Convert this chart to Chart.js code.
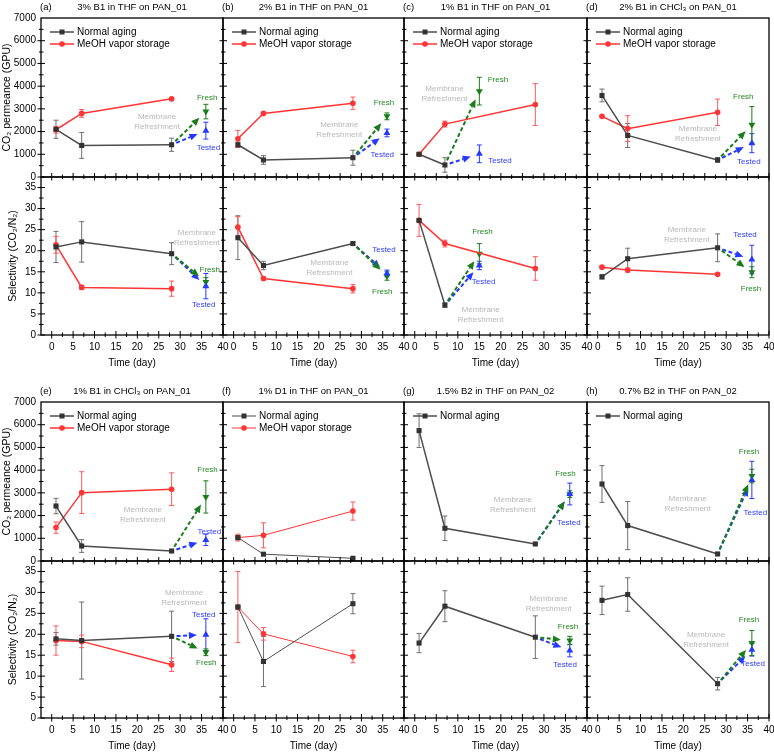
<!DOCTYPE html>
<html>
<head>
<meta charset="utf-8">
<script src="https://cdn.jsdelivr.net/npm/chart.js@4.4.1/dist/chart.umd.min.js"></script>
<style>
  body { margin:0; background:#fff; width:774px; height:754px; position:relative; overflow:hidden; }
  canvas { position:absolute; }
</style>
</head>
<body>
<script>
// ══════════════════════════════════════════════════
//  DATA
// ══════════════════════════════════════════════════
const xTicks = [0, 5, 10, 15, 20, 25, 30, 35, 40];
const permTicks = [0, 1000, 2000, 3000, 4000, 5000, 6000, 7000];
const selTicks = [0, 5, 10, 15, 20, 25, 30, 35];
const days = [1, 7, 28];
const daysShort = [1, 7];        // (c) normal aging stops at day 7
const refreshDay = 36;
const refreshDayShort = 15;      // (c) refreshed at day 15

// refresh arrays are [fresh, tested]
// (a)
const aPermAging = [2100, 1390, 1420], aPermAgingErr = [400, 570, 290];
const aPermMeoh = [2080, 2800, 3440], aPermMeohErr = [150, 170, 60];
const aPermRefresh = [2880, 2040], aPermRefreshErr = [320, 370];
const aSelAging = [20.9, 22.1, 19.3], aSelAgingErr = [3.7, 4.8, 2.6];
const aSelMeoh = [21.4, 11.3, 11.0], aSelMeohErr = [2.0, 0.5, 1.8];
const aSelRefresh = [12.6, 11.6], aSelRefreshErr = [1.0, 3.0];
// (b)
const bPermAging = [1420, 750, 850], bPermAgingErr = [120, 190, 330];
const bPermMeoh = [1680, 2800, 3250], bPermMeohErr = [370, 60, 270];
const bPermRefresh = [2670, 1940], bPermRefreshErr = [150, 170];
const bSelAging = [23.1, 16.5, 21.7], bSelAgingErr = [5.2, 1.0, 0.3];
const bSelMeoh = [25.6, 13.4, 11.0], bSelMeohErr = [2.5, 0.4, 1.0];
const bSelRefresh = [14.0, 14.6], bSelRefreshErr = [1.0, 0.8];
// (c)
const cPermAging = [1000, 530], cPermAgingErr = [60, 320];
const cPermMeoh = [1000, 2330, 3190], cPermMeohErr = [60, 130, 920];
const cPermRefresh = [3780, 1020], cPermRefreshErr = [610, 390];
const cSelAging = [27.2, 7.1], cSelAgingErr = [0, 0.5];
const cSelMeoh = [27.2, 21.7, 15.8], cSelMeohErr = [3.8, 0.8, 2.8];
const cSelRefresh = [19.3, 16.5], cSelRefreshErr = [2.4, 1.0];
// (d)
const dPermAging = [3590, 1830, 750], dPermAgingErr = [280, 530, 100];
const dPermMeoh = [2670, 2130, 2850], dPermMeohErr = [40, 570, 580];
const dPermRefresh = [2300, 1490], dPermRefreshErr = [800, 420];
const dSelAging = [13.8, 18.1, 20.7], dSelAgingErr = [0.5, 2.5, 3.3];
const dSelMeoh = [16.1, 15.4, 14.4], dSelMeohErr = [0.3, 0.5, 0.3];
const dSelRefresh = [14.9, 17.9], dSelRefreshErr = [1.3, 3.4];
// (e)
const ePermAging = [2420, 660, 440], ePermAgingErr = [340, 280, 60];
const ePermMeoh = [1470, 3010, 3160], ePermMeohErr = [250, 920, 720];
const ePermRefresh = [2820, 930], ePermRefreshErr = [710, 250];
const eSelAging = [18.9, 18.5, 19.5], eSelAgingErr = [1.5, 9.2, 6.0];
const eSelMeoh = [18.5, 18.3, 12.7], eSelMeohErr = [3.5, 1.5, 1.6];
const eSelRefresh = [15.7, 19.9], eSelRefreshErr = [0.8, 3.8];
// (f)
const fPermAging = [1030, 300, 120], fPermAgingErr = [80, 30, 30];
const fPermMeoh = [1030, 1130, 2200], fPermMeohErr = [150, 550, 400];
const fSelAging = [26.5, 13.5, 27.3], fSelAgingErr = [0.5, 6.0, 2.4];
const fSelMeoh = [26.5, 20.1, 14.7], fSelMeohErr = [8.5, 1.5, 1.5];
// (g)
const gPermAging = [5740, 1440, 750], gPermAgingErr = [740, 540, 50];
const gPermRefresh = [2940, 2950], gPermRefreshErr = [150, 480];
const gSelAging = [17.9, 26.7, 19.3], gSelAgingErr = [2.3, 3.7, 5.1];
const gSelRefresh = [18.5, 16.1], gSelRefreshErr = [1.0, 1.5];
// (h)
const hPermAging = [3390, 1560, 310], hPermAgingErr = [810, 1060, 50];
const hPermRefresh = [3740, 3570], hPermRefreshErr = [300, 820];
const hSelAging = [28.1, 29.5, 8.2], hSelAgingErr = [3.4, 4.0, 1.5];
const hSelRefresh = [17.9, 16.3], hSelRefreshErr = [3.0, 1.5];

// ══════════════════════════════════════════════════
//  PANELS
// ══════════════════════════════════════════════════
const panels = [
  { tag:'(a)', title:'3% B1 in THF on PAN_01', col:0, row:0,
    perm:{ aging:aPermAging, agingErr:aPermAgingErr, meoh:aPermMeoh, meohErr:aPermMeohErr, refresh:aPermRefresh, refreshErr:aPermRefreshErr,
           notes:[['Fresh',36.3,3500],['Tested',36.6,1300]], memb:[24.6,2660] },
    sel:{ aging:aSelAging, agingErr:aSelAgingErr, meoh:aSelMeoh, meohErr:aSelMeohErr, refresh:aSelRefresh, refreshErr:aSelRefreshErr,
          notes:[['Fresh',36.9,15.4],['Tested',35.5,7.1]], memb:[33.9,24.3] } },
  { tag:'(b)', title:'2% B1 in THF on PAN_01', col:1, row:0,
    perm:{ aging:bPermAging, agingErr:bPermAgingErr, meoh:bPermMeoh, meohErr:bPermMeohErr, refresh:bPermRefresh, refreshErr:bPermRefreshErr,
           notes:[['Fresh',35.3,3250],['Tested',34.9,975]], memb:[24.8,2317] },
    sel:{ aging:bSelAging, agingErr:bSelAgingErr, meoh:bSelMeoh, meohErr:bSelMeohErr, refresh:bSelRefresh, refreshErr:bSelRefreshErr,
          notes:[['Tested',35.3,20.3],['Fresh',34.9,10.2]], memb:[22.5,17.1] } },
  { tag:'(c)', title:'1% B1 in THF on PAN_01', col:2, row:0, agingX:daysShort, refreshX:refreshDayShort,
    perm:{ aging:cPermAging, agingErr:cPermAgingErr, meoh:cPermMeoh, meohErr:cPermMeohErr, refresh:cPermRefresh, refreshErr:cPermRefreshErr,
           notes:[['Fresh',19.3,4267],['Tested',19.8,709]], memb:[6.9,3899] },
    sel:{ aging:cSelAging, agingErr:cSelAgingErr, meoh:cSelMeoh, meohErr:cSelMeohErr, refresh:cSelRefresh, refreshErr:cSelRefreshErr,
          notes:[['Fresh',15.7,24.4],['Tested',16.0,12.6]], memb:[15.3,5.9] } },
  { tag:'(d)', title:'2% B1 in CHCl\u2083 on PAN_01', col:3, row:0,
    perm:{ aging:dPermAging, agingErr:dPermAgingErr, meoh:dPermMeoh, meohErr:dPermMeohErr, refresh:dPermRefresh, refreshErr:dPermRefreshErr,
           notes:[['Fresh',34.0,3544],['Tested',35.3,665]], memb:[23.4,2113] },
    sel:{ aging:dSelAging, agingErr:dSelAgingErr, meoh:dSelMeoh, meohErr:dSelMeohErr, refresh:dSelRefresh, refreshErr:dSelRefreshErr,
          notes:[['Tested',34.4,23.9],['Fresh',35.8,11.0]], memb:[20.8,25.0] } },
  { tag:'(e)', title:'1% B1 in CHCl\u2083 on PAN_01', col:0, row:1,
    perm:{ aging:ePermAging, agingErr:ePermAgingErr, meoh:ePermMeoh, meohErr:ePermMeohErr, refresh:ePermRefresh, refreshErr:ePermRefreshErr,
           notes:[['Fresh',36.4,4007],['Tested',36.8,1290]], memb:[21.3,2276] },
    sel:{ aging:eSelAging, agingErr:eSelAgingErr, meoh:eSelMeoh, meohErr:eSelMeohErr, refresh:eSelRefresh, refreshErr:eSelRefreshErr,
          notes:[['Tested',35.5,24.7],['Fresh',36.1,13.1]], memb:[30.9,30.0] } },
  { tag:'(f)', title:'1% D1 in THF on PAN_01', col:1, row:1, thin:true,
    perm:{ aging:fPermAging, agingErr:fPermAgingErr, meoh:fPermMeoh, meohErr:fPermMeohErr, notes:[] },
    sel:{ aging:fSelAging, agingErr:fSelAgingErr, meoh:fSelMeoh, meohErr:fSelMeohErr, notes:[] } },
  { tag:'(g)', title:'1.5% B2 in THF on PAN_02', col:2, row:1,
    perm:{ aging:gPermAging, agingErr:gPermAgingErr, refresh:gPermRefresh, refreshErr:gPermRefreshErr,
           notes:[['Fresh',35.0,3818],['Tested',35.8,1660]], memb:[22.8,2686] },
    sel:{ aging:gSelAging, agingErr:gSelAgingErr, refresh:gSelRefresh, refreshErr:gSelRefreshErr,
          notes:[['Fresh',35.6,21.7],['Tested',34.9,12.7]], memb:[31.1,28.5] } },
  { tag:'(h)', title:'0.7% B2 in THF on PAN_02', col:3, row:1,
    perm:{ aging:hPermAging, agingErr:hPermAgingErr, refresh:hPermRefresh, refreshErr:hPermRefreshErr,
           notes:[['Fresh',35.3,4786],['Tested',36.8,2144]], memb:[21.0,2730] },
    sel:{ aging:hSelAging, agingErr:hSelAgingErr, refresh:hSelRefresh, refreshErr:hSelRefreshErr,
          notes:[['Fresh',35.3,23.5],['Tested',36.3,13.0]], memb:[25.3,19.9] } },
];

// ══════════════════════════════════════════════════
//  LAYOUT / STYLE
// ══════════════════════════════════════════════════
const FONT = '"Liberation Sans", Arial, sans-serif';
const GRAY = '#4d4d4d', DARK = '#333333', RED = '#ff3434', GREEN = '#197d19', BLUE = '#2438ff';
const NOTE_COLORS = { Fresh: '#208a20', Tested: '#2f3cff' };
const colLeft = [41, 223, 404, 587], colRight = [223, 404, 587, 769];
const permTop = [18, 402], midLine = [177, 561], selBottom = [335, 718];

function xy(xs, ys) { return ys.map((y, i) => ({ x: xs[i], y })); }

function drawArrow(ctx, x0, y0, x1, y1, color) {
  const dx = x1 - x0, dy = y1 - y0, len = Math.hypot(dx, dy);
  const ux = dx / len, uy = dy / len;
  const sx = x0 + ux * 5, sy = y0 + uy * 5;
  const ex = x1 - ux * 9, ey = y1 - uy * 9;
  const head = 8, hw = 3.5;
  const bx = ex - ux * head, by = ey - uy * head;
  ctx.save();
  ctx.strokeStyle = color; ctx.lineWidth = 2; ctx.setLineDash([4, 2.5]);
  ctx.beginPath(); ctx.moveTo(sx, sy); ctx.lineTo(bx, by); ctx.stroke();
  ctx.setLineDash([]); ctx.fillStyle = color;
  ctx.beginPath(); ctx.moveTo(ex, ey);
  ctx.lineTo(bx - uy * hw, by + ux * hw); ctx.lineTo(bx + uy * hw, by - ux * hw);
  ctx.closePath(); ctx.fill();
  ctx.restore();
}

const panelDecor = {
  id: 'panelDecor',
  beforeDatasetsDraw(chart, args, o) {
    const { ctx } = chart; const ys = chart.scales.y;
    // dashed arrows from last aging point
    const agingMeta = chart.getDatasetMeta(0);
    const origin = agingMeta.data[agingMeta.data.length - 1];
    chart.data.datasets.forEach((ds, di) => {
      if (!ds.arrow) return;
      const tgt = chart.getDatasetMeta(di).data[0];
      drawArrow(ctx, origin.x, origin.y, tgt.x, tgt.y, ds.borderColor);
    });
    // error bars
    chart.data.datasets.forEach((ds, di) => {
      if (!ds.errors) return;
      const meta = chart.getDatasetMeta(di);
      ds.data.forEach((p, i) => {
        const e = ds.errors[i]; if (!e) return;
        const px = meta.data[i].x;
        const y1 = ys.getPixelForValue(p.y + e), y2 = ys.getPixelForValue(p.y - e);
        ctx.save(); ctx.strokeStyle = ds.errColor; ctx.lineWidth = 1;
        ctx.beginPath();
        ctx.moveTo(px, y1); ctx.lineTo(px, y2);
        ctx.moveTo(px - 2.5, y1); ctx.lineTo(px + 2.5, y1);
        ctx.moveTo(px - 2.5, y2); ctx.lineTo(px + 2.5, y2);
        ctx.stroke(); ctx.restore();
      });
    });
  },
  afterDraw(chart, args, o) {
    const { ctx } = chart; const xs = chart.scales.x, ys = chart.scales.y;
    const { left, right, top, bottom } = chart.chartArea;
    ctx.save();
    // frame
    ctx.strokeStyle = '#000'; ctx.lineWidth = 1.3;
    ctx.strokeRect(left, top, right - left, bottom - top);
    // ticks, crossing the bottom and left edges
    ctx.lineWidth = 1; ctx.beginPath();
    for (let v = 0; v <= 40; v += 2.5) {
      const px = xs.getPixelForValue(v), major = v % 5 === 0;
      ctx.moveTo(px, bottom - (major ? 4 : 2.5)); ctx.lineTo(px, bottom + (major ? 3.5 : 2));
    }
    for (let v = 0; v < o.yMax; v += o.yStep / 2) {
      const py = ys.getPixelForValue(v), major = Math.abs(v % o.yStep) < 1e-6;
      ctx.moveTo(left - (major ? 3.5 : 2), py); ctx.lineTo(left + (major ? 4 : 2.5), py);
    }
    ctx.stroke();
    // legend
    ctx.textBaseline = 'middle'; ctx.textAlign = 'left';
    if (o.legend) {
      let row = 0;
      chart.data.datasets.forEach(ds => {
        if (!ds.inLegend) return;
        const y = top + 14 + row * 12;
        ctx.strokeStyle = ds.borderColor; ctx.lineWidth = ds.borderWidth;
        ctx.beginPath(); ctx.moveTo(left + 9, y); ctx.lineTo(left + 33, y); ctx.stroke();
        ctx.fillStyle = ds.pointBackgroundColor;
        if (ds.pointStyle === 'rect') ctx.fillRect(left + 21 - 2.5, y - 2.5, 5, 5);
        else { ctx.beginPath(); ctx.arc(left + 21, y, 2.8, 0, Math.PI * 2); ctx.fill(); }
        ctx.fillStyle = '#000'; ctx.font = '10px ' + FONT;
        ctx.fillText(ds.label, left + 36, y);
        row++;
      });
    }
    // notes
    ctx.textAlign = 'center'; ctx.font = '8px ' + FONT;
    (o.notes || []).forEach(([txt, dx, dy]) => {
      ctx.fillStyle = NOTE_COLORS[txt];
      ctx.fillText(txt, xs.getPixelForValue(dx), ys.getPixelForValue(dy));
    });
    if (o.memb) {
      const mx = xs.getPixelForValue(o.memb[0]), my = ys.getPixelForValue(o.memb[1]);
      ctx.fillStyle = '#b8b8b8';
      ctx.fillText('Membrane', mx, my);
      ctx.fillText('Refreshment', mx, my + 10);
    }
    // panel title
    if (o.title) {
      ctx.fillStyle = '#000'; ctx.font = '9.5px ' + FONT;
      ctx.textAlign = 'left'; ctx.fillText(o.tag, left - 1, top - 11);
      ctx.textAlign = 'center'; ctx.fillText(o.title, (left + right) / 2, top - 11);
    }
    ctx.restore();
  }
};

function buildDatasets(p, s) {
  const agingX = p.agingX || days, refX = p.refreshX || refreshDay;
  const lw = p.thin ? 1 : 1.5;
  const ds = [{
    label: 'Normal aging', data: xy(agingX, s.aging), errors: s.agingErr, errColor: '#6e6e6e',
    borderColor: GRAY, borderWidth: lw, pointStyle: 'rect', pointRadius: 3.6,
    pointBackgroundColor: DARK, pointBorderColor: DARK, pointBorderWidth: 0, inLegend: true
  }];
  if (s.meoh) ds.push({
    label: 'MeOH vapor storage', data: xy(days, s.meoh), errors: s.meohErr, errColor: '#ff5a5a',
    borderColor: RED, borderWidth: lw, pointStyle: 'circle', pointRadius: 2.8,
    pointBackgroundColor: RED, pointBorderColor: RED, pointBorderWidth: 0, inLegend: true
  });
  if (s.refresh) {
    ds.push({
      label: 'Tested', data: [{ x: refX, y: s.refresh[1] }], errors: [s.refreshErr[1]], errColor: BLUE,
      borderColor: BLUE, showLine: false, pointStyle: 'triangle', pointRadius: 4,
      pointBackgroundColor: BLUE, pointBorderColor: BLUE, pointBorderWidth: 0, arrow: true
    });
    ds.push({
      label: 'Fresh', data: [{ x: refX, y: s.refresh[0] }], errors: [s.refreshErr[0]], errColor: GREEN,
      borderColor: GREEN, showLine: false, pointStyle: 'triangle', pointRotation: 180, pointRadius: 4,
      pointBackgroundColor: GREEN, pointBorderColor: GREEN, pointBorderWidth: 0, arrow: true
    });
  }
  return ds;
}

function makeCanvas(x, y, w, h) {
  const c = document.createElement('canvas');
  c.width = w; c.height = h;
  c.style.left = x + 'px'; c.style.top = y + 'px';
  c.style.width = w + 'px'; c.style.height = h + 'px';
  document.body.appendChild(c);
  return c;
}

// fixed axis sizes so every plot area lands on the same grid
function fixSize(a, size) {
  if (a.isHorizontal()) a.height = size; else a.width = size;
  a.paddingTop = a.paddingBottom = a.paddingLeft = a.paddingRight = 0;
}

function subplot(p, kind) {
  const isPerm = kind === 'perm';
  const s = p[kind], c = p.col, r = p.row, first = c === 0;
  const cx = colLeft[c] - (first ? 41 : 6);
  const cw = colRight[c] + 8 - cx;
  let cy, ch, pad;
  if (isPerm) {
    cy = permTop[r] - 18; ch = midLine[r] - permTop[r] + 18 + 8;
    pad = { left: first ? 1 : 6, top: 18, right: 8, bottom: 8 };
  } else {
    cy = midLine[r] - 6; ch = selBottom[r] - midLine[r] + 6 + 36;
    pad = { left: first ? 7 : 6, top: 6, right: 8, bottom: 2 };
  }
  const yTicks = isPerm ? permTicks : selTicks;
  const yMax = isPerm ? 7000 : 37.5, yStep = isPerm ? 1000 : 5;
  const tickFont = { family: FONT, size: 10 };

  new Chart(makeCanvas(cx, cy, cw, ch), {
    type: 'line',
    data: { datasets: buildDatasets(p, s) },
    options: {
      responsive: false, animation: false, events: [],
      layout: { padding: pad },
      plugins: {
        legend: { display: false }, tooltip: { enabled: false },
        panelDecor: { legend: isPerm, notes: s.notes, memb: s.memb, yMax, yStep,
                      tag: isPerm ? p.tag : null, title: isPerm ? p.title : null }
      },
      elements: { line: { tension: 0 } },
      scales: {
        x: {
          type: 'linear', min: -2.5, max: 40, display: !isPerm,
          afterBuildTicks: a => { a.ticks = xTicks.map(v => ({ value: v })); },
          afterFit: a => fixSize(a, isPerm ? 0 : 34),
          grid: { display: false, drawTicks: false }, border: { display: false },
          ticks: { color: '#000', font: tickFont, padding: 6, autoSkip: false, maxRotation: 0, callback: v => String(v) },
          title: { display: true, text: 'Time (day)', color: '#000', font: tickFont, padding: 0 }
        },
        y: {
          type: 'linear', min: 0, max: yMax, display: first,
          afterBuildTicks: a => { a.ticks = yTicks.map(v => ({ value: v })); },
          afterFit: a => fixSize(a, first ? (isPerm ? 40 : 34) : 0),
          grid: { display: false, drawTicks: false }, border: { display: false },
          ticks: { color: '#000', font: tickFont, padding: 5, callback: v => String(v) },
          title: { display: true, text: isPerm ? 'CO\u2082 permeance (GPU)' : 'Selectivity (CO\u2082/N\u2082)',
                   color: '#000', font: { family: FONT, size: 10.5 }, padding: 0 }
        }
      }
    },
    plugins: [panelDecor]
  });
}

panels.forEach(p => { subplot(p, 'perm'); subplot(p, 'sel'); });
</script>
</body>
</html>
